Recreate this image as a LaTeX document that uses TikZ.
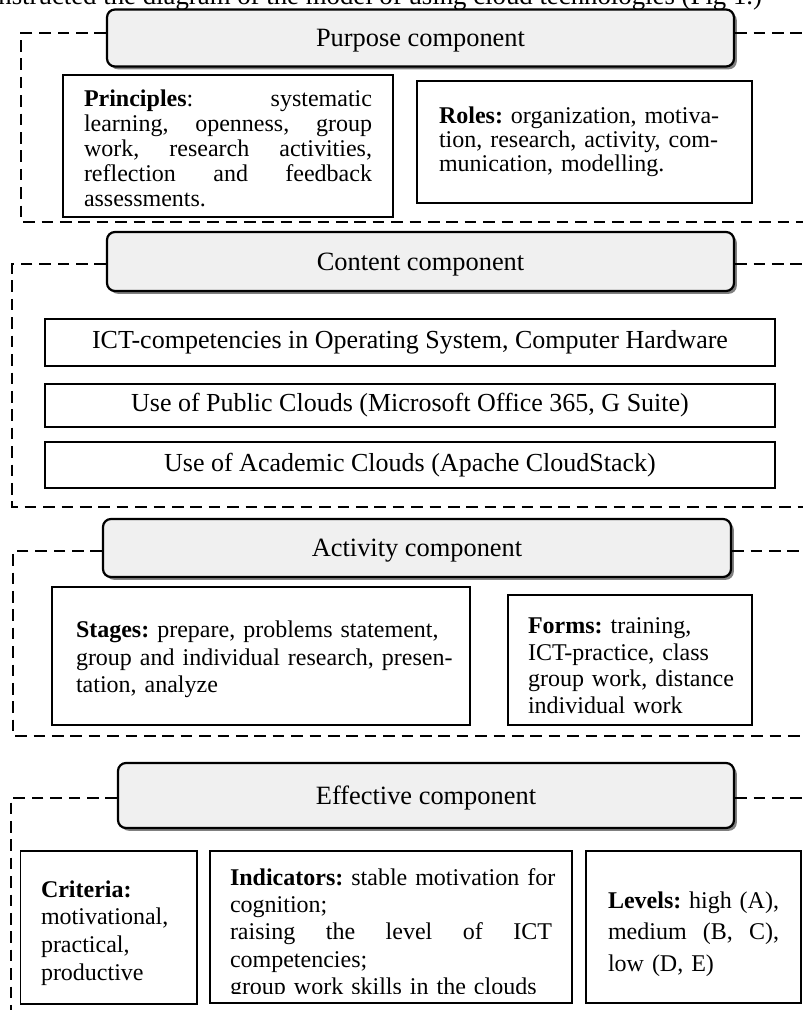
\documentclass[tikz,border=0pt]{standalone}
\usepackage{fontspec}
\setmainfont{Liberation Serif}
\usetikzlibrary{shadows}
\newcommand{\jl}[2]{\leavevmode\hbox to #1{#2}}
\newcommand{\gp}{\hskip 0.25em plus 1fil\relax}
\begin{document}
\frenchspacing
\begin{tikzpicture}[x=0.5pt,y=-0.5pt,
  fA/.style={font=\fontsize{13.2pt}{15pt}\selectfont},
  comp/.style={draw, line width=1.1pt, rounded corners=4pt, fill=black!6,
    inner sep=0pt, text depth=0pt, fA,
    drop shadow={shadow xshift=1.4pt, shadow yshift=-1.4pt, fill=black!50, opacity=1}},
  box/.style={draw, line width=0.9pt, inner sep=0pt},
  txt/.style={align=left, inner sep=0pt},
  item/.style={draw, line width=0.6pt, inner sep=0pt, minimum width=365pt,
    font=\fontsize{13pt}{15pt}\selectfont},
  frame/.style={line width=0.9pt, dash pattern=on 5.8pt off 3.4pt},
]
\useasboundingbox (0,0) rectangle (803,1010);
\clip (0,0) rectangle (803,1010);

\node[font=\fontsize{13.4pt}{15pt}\selectfont, anchor=base west, inner sep=0pt] (title) at (-2,5)
  {nstructed the diagram of the model of using cloud technologies (Fig 1.)};

% ---------- Purpose component ----------
\node[comp, minimum width=313.5pt, minimum height=28.5pt] (pur) at (420.5,38) {Purpose component};
\node[box, minimum width=165pt, minimum height=71pt] (pribox) at (228,146) {};
\node[txt, text width=144pt, font=\fontsize{12pt}{12.5pt}\selectfont] (pri) at (228,148.5)
  {\jl{144pt}{\textbf{Principles}:\gp systematic}\\
   \jl{144pt}{learning,\gp openness,\gp group}\\
   \jl{144pt}{work,\gp research\gp activities,}\\
   \jl{144pt}{reflection\gp and\gp feedback}\\
   \mbox{assessments.}};
\node[box, minimum width=167.5pt, minimum height=61pt] (rolbox) at (584.5,142) {};
\node[txt, text width=145.5pt, font=\fontsize{12pt}{12pt}\selectfont] (rol) at (584.5,142)
  {\mbox{\textbf{Roles:} organization, motiva-}\\
   \mbox{tion, research, activity, com-}\\
   \mbox{munication, modelling.}};
\draw[frame] (pur.west |- 0,33) -- (21,33) -- (21,222) -- (803,222);
\draw[frame] (pur.east |- 0,33) -- (803,33);

% ---------- Content component ----------
\node[comp, minimum width=313.5pt, minimum height=29.5pt] (con) at (420.5,261.5) {Content component};
\node[item, minimum height=23.5pt] (ict) at (410,342.5) {ICT-competencies in Operating System, Computer Hardware};
\node[item, minimum height=21.5pt] (pub) at (410,405.5) {Use of Public Clouds (Microsoft Office 365, G Suite)};
\node[item, minimum height=23pt] (aca) at (410,465) {Use of Academic Clouds (Apache CloudStack)};
\draw[frame] (con.west |- 0,264) -- (12,264) -- (12,507) -- (803,507);
\draw[frame] (con.east |- 0,264) -- (803,264);

% ---------- Activity component ----------
\node[comp, minimum width=314pt, minimum height=29pt] (act) at (417,548) {Activity component};
\node[box, minimum width=209pt, minimum height=69pt] (stabox) at (261,656) {};
\node[txt, text width=185pt, font=\fontsize{12pt}{13.75pt}\selectfont] (sta) at (261,659.5)
  {\mbox{\textbf{Stages:} prepare, problems statement,}\\
   \mbox{group and individual research, presen-}\\
   \mbox{tation, analyze}};
\node[box, minimum width=122pt, minimum height=65pt] (frmbox) at (630,660) {};
\node[txt, text width=102pt, font=\fontsize{12pt}{13.3pt}\selectfont] (frm) at (630,665.5)
  {\mbox{\textbf{Forms:} training,}\\
   \mbox{ICT-practice, class}\\
   \mbox{group work, distance}\\
   \mbox{individual work}};
\draw[frame] (act.west |- 0,551) -- (13,551) -- (13,736) -- (803,736);
\draw[frame] (act.east |- 0,551) -- (803,551);

% ---------- Effective component ----------
\node[comp, minimum width=308pt, minimum height=32.5pt] (eff) at (426,795.5) {Effective component};
\node[box, minimum width=88.25pt, minimum height=76.5pt] (cribox) at (108.75,927.5) {};
\node[txt, text width=67.75pt, font=\fontsize{12pt}{13.8pt}\selectfont] (cri) at (108.75,933)
  {\mbox{\textbf{Criteria:}}\\
   \mbox{motivational,}\\
   \mbox{practical,}\\
   \mbox{productive}};
\node[box, minimum width=181pt, minimum height=76pt] (indbox) at (391,927) {};
\begin{scope}
  \clip (211,852) rectangle (571,993);
  \node[txt, text width=161pt, font=\fontsize{12pt}{13.65pt}\selectfont] (ind) at (391,934)
    {\mbox{\textbf{Indicators:} stable motivation for}\\
     \mbox{cognition;}\\
     \jl{161pt}{raising\gp the\gp level\gp of\gp ICT}\\
     \mbox{competencies;}\\
     \mbox{group work skills in the clouds}};
\end{scope}
\node[box, minimum width=107.5pt, minimum height=76pt] (levbox) at (693.5,927) {};
\node[txt, text width=85.5pt, font=\fontsize{12pt}{15.75pt}\selectfont] (lev) at (693.5,934)
  {\jl{85.5pt}{\textbf{Levels:}\gp high\gp (A),}\\
   \jl{85.5pt}{medium\gp (B,\gp C),}\\
   \mbox{low (D, E)}};
\draw[frame] (eff.west |- 0,798) -- (11,798) -- (11,1010);
\draw[frame] (eff.east |- 0,798) -- (803,798);
\end{tikzpicture}
\end{document}
